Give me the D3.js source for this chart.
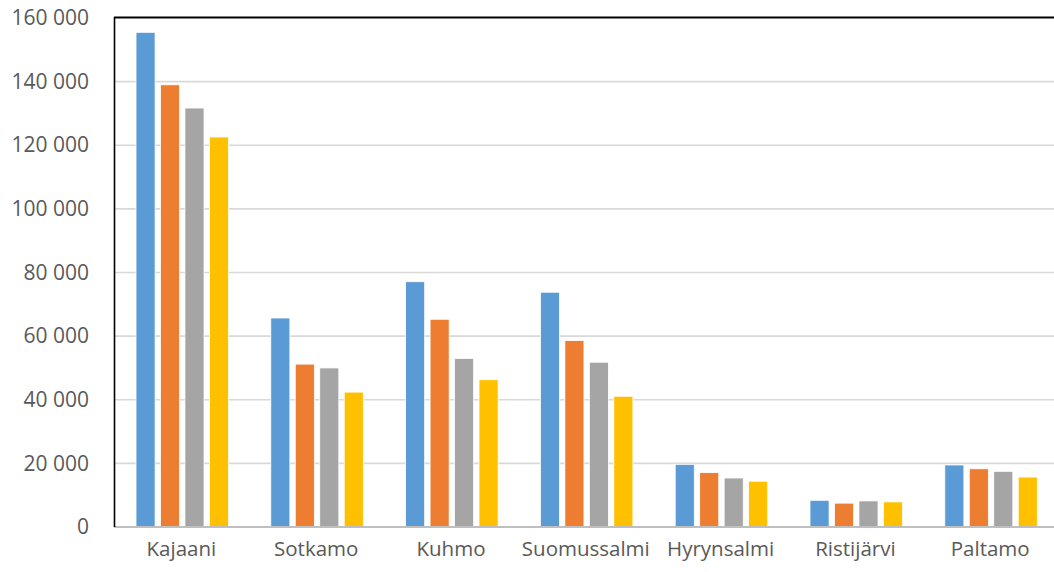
<!DOCTYPE html>
<html>
<head>
<meta charset="utf-8">
<script src="https://cdn.jsdelivr.net/npm/d3@7"></script>
<style>
  html, body { margin: 0; padding: 0; background: #fff; overflow: hidden; }
  svg { display: block; }
</style>
</head>
<body>
<svg id="chart" width="1054" height="572"></svg>
<script>
const categories = ["Kajaani", "Sotkamo", "Kuhmo", "Suomussalmi", "Hyrynsalmi", "Ristijärvi", "Paltamo"];
const seriesNames = ["s1", "s2", "s3", "s4"];
const s1 = [155500, 65700, 77100, 73800, 19700, 8400, 19500];
const s2 = [139000, 51200, 65300, 58600, 17100, 7500, 18300];
const s3 = [131700, 50000, 53000, 51800, 15400, 8200, 17500];
const s4 = [122600, 42400, 46300, 41100, 14400, 7900, 15700];
const yTicks = [0, 20000, 40000, 60000, 80000, 100000, 120000, 140000, 160000];
const colors = ["#5B9BD5", "#ED7D31", "#A5A5A5", "#FFC000"];

const seriesValues = [s1, s2, s3, s4];
const svg = d3.select("#chart");
const pLeft = 114, pTop = 18, pBottom = 527, pRight = 1057.6;

const x = d3.scaleBand().domain(categories).range([pLeft, pRight]).padding(0);
const xi = d3.scaleBand().domain(seriesNames).range([22, 114.5]).paddingInner(0.22);
const y = d3.scaleLinear().domain([0, 160000]).range([pBottom, pTop]);

const fmt = v => d3.format(",")(v).replace(/,/g, " ");

// gridlines
svg.append("g")
  .selectAll("line")
  .data(yTicks.filter(t => t > 0 && t < 160000))
  .join("line")
  .attr("x1", pLeft).attr("x2", 1054)
  .attr("y1", d => y(d)).attr("y2", d => y(d))
  .attr("stroke", "#D9D9D9").attr("stroke-width", 1.6);

// bars
const groups = svg.append("g")
  .selectAll("g")
  .data(categories)
  .join("g")
  .attr("transform", d => `translate(${x(d)},0)`);

groups.selectAll("rect")
  .data((c, ci) => seriesNames.map((s, si) => ({ s, si, v: seriesValues[si][ci] })))
  .join("rect")
  .attr("x", d => xi(d.s))
  .attr("width", xi.bandwidth())
  .attr("y", d => y(d.v))
  .attr("height", d => pBottom - y(d.v))
  .attr("fill", d => colors[d.si])
  .attr("stroke", "#ffffff")
  .attr("stroke-width", 0.8);

// bottom axis line
svg.append("line")
  .attr("x1", pLeft).attr("x2", 1054)
  .attr("y1", pBottom).attr("y2", pBottom)
  .attr("stroke", "#BFBFBF").attr("stroke-width", 2);

// frame top and left
svg.append("line")
  .attr("x1", pLeft).attr("x2", 1054)
  .attr("y1", 17.5).attr("y2", 17.5)
  .attr("stroke", "#000").attr("stroke-width", 2);
svg.append("line")
  .attr("x1", 114.5).attr("x2", 114.5)
  .attr("y1", 17).attr("y2", pBottom)
  .attr("stroke", "#000").attr("stroke-width", 1.6);

// y axis labels
const yAxis = d3.axisLeft(y).tickValues(yTicks).tickFormat(fmt).tickSize(0).tickPadding(0);
const yg = svg.append("g").attr("transform", `translate(89,0)`).call(yAxis);
yg.select(".domain").remove();
yg.selectAll("text")
  .attr("fill", "#595959")
  .style("font-family", "'Open Sans', 'Liberation Sans', sans-serif")
  .style("font-size", "21px");

// x axis labels
const xAxis = d3.axisBottom(x).tickSize(0).tickPadding(0);
const xg = svg.append("g").attr("transform", `translate(0,541)`).call(xAxis);
xg.select(".domain").remove();
xg.selectAll("text")
  .attr("fill", "#595959")
  .style("font-family", "'Open Sans', 'Liberation Sans', sans-serif")
  .style("font-size", "20.5px");
</script>
</body>
</html>
